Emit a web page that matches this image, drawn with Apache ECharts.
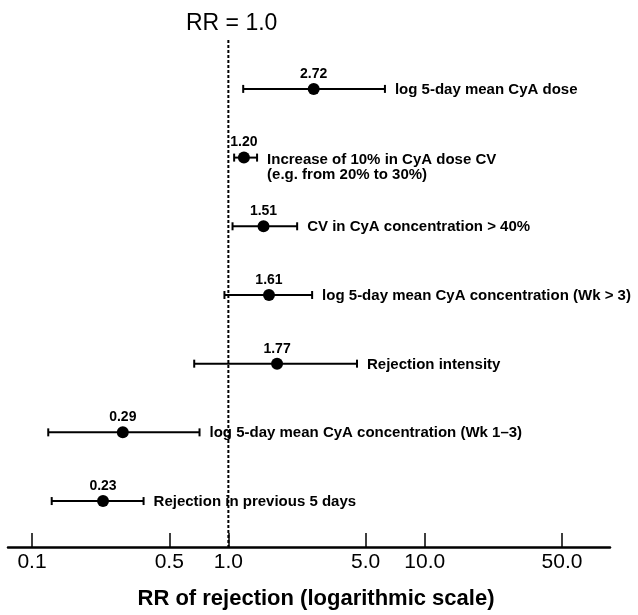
<!DOCTYPE html>
<html>
<head>
<meta charset="utf-8">
<script src="https://cdn.jsdelivr.net/npm/echarts@6/dist/echarts.min.js"></script>
<style>
  html, body { margin: 0; padding: 0; background: #fff; }
  #chart { width: 638px; height: 615px; }
</style>
</head>
<body>
<div id="chart"></div>
<script>
// relative risks with 95% CI (top row first)
var rr    = [2.72, 1.20, 1.51, 1.61, 1.77, 0.29, 0.23];
var lower = [1.19, 1.07, 1.05, 0.955, 0.67, 0.121, 0.126];
var upper = [6.27, 1.40, 2.24, 2.67, 4.52, 0.713, 0.37];
var rowLabels = [
  'log 5-day mean CyA dose',
  'Increase of 10% in CyA dose CV\n(e.g. from 20% to 30%)',
  'CV in CyA concentration > 40%',
  'log 5-day mean CyA concentration (Wk > 3)',
  'Rejection intensity',
  'log 5-day mean CyA concentration (Wk 1\u20133)',
  'Rejection in previous 5 days'
];
var tickValues = [0.1, 0.5, 1.0, 5.0, 10.0, 50.0];
var tickLabels = ['0.1', '0.5', '1.0', '5.0', '10.0', '50.0'];
var refRR = 1.0;

var FONT = '"Liberation Sans", Arial, sans-serif';
var yMin = -0.712, yMax = 6.669;

var chart = echarts.init(document.getElementById('chart'));

// x axis runs in log10 units
var items = [];
for (var i = 0; i < rr.length; i++) {
  items.push([Math.log10(lower[i]), Math.log10(rr[i]), Math.log10(upper[i]), i, rowLabels[i], rr[i].toFixed(2)]);
}

function renderRow(params, api) {
  var lo = api.coord([api.value(0), api.value(3)]);
  var pt = api.coord([api.value(1), api.value(3)]);
  var hi = api.coord([api.value(2), api.value(3)]);
  var cap = 4;
  var label = items[params.dataIndex][4];
  var multi = label.indexOf('\n') >= 0;
  return {
    type: 'group',
    children: [
      { type: 'line', shape: { x1: lo[0], y1: lo[1], x2: hi[0], y2: hi[1] }, style: { stroke: '#000', lineWidth: 2 } },
      { type: 'line', shape: { x1: lo[0], y1: lo[1] - cap, x2: lo[0], y2: lo[1] + cap }, style: { stroke: '#000', lineWidth: 2 } },
      { type: 'line', shape: { x1: hi[0], y1: hi[1] - cap, x2: hi[0], y2: hi[1] + cap }, style: { stroke: '#000', lineWidth: 2 } },
      { type: 'circle', shape: { cx: pt[0], cy: pt[1], r: 6 }, style: { fill: '#000' } },
      { type: 'text', x: pt[0], y: pt[1] - 15, style: {
          text: items[params.dataIndex][5], fill: '#000', font: 'bold 14px ' + FONT,
          textAlign: 'center', textVerticalAlign: 'middle' } },
      { type: 'text', x: hi[0] + 10, y: multi ? pt[1] - 5 : pt[1] + 1, style: {
          text: label, fill: '#000', font: 'bold 15px ' + FONT, lineHeight: 15,
          textAlign: 'left', textVerticalAlign: multi ? 'top' : 'middle' } }
    ]
  };
}

var option = {
  backgroundColor: '#fff',
  animation: false,
  title: {
    text: 'RR = 1.0',
    left: 186, top: 12, padding: 0,
    textStyle: { fontFamily: FONT, fontSize: 23, fontWeight: 'normal', color: '#000' }
  },
  grid: { left: 8, right: 28, top: 40, bottom: 67, containLabel: false },
  xAxis: {
    type: 'value',
    min: -1.1222, max: 1.9434,
    splitLine: { show: false },
    axisLine: { onZero: false, lineStyle: { color: '#000', width: 2.5 } },
    axisTick: {
      inside: true, length: 14, lineStyle: { color: '#000', width: 1.5 },
      customValues: tickValues.map(function (v) { return Math.log10(v); })
    },
    axisLabel: {
      customValues: tickValues.map(function (v) { return Math.log10(v); }),
      margin: 5,
      color: '#000', fontFamily: FONT, fontSize: 21,
      formatter: function (v) {
        for (var k = 0; k < tickValues.length; k++) {
          if (Math.abs(Math.log10(tickValues[k]) - v) < 1e-6) return tickLabels[k];
        }
        return '';
      }
    },
    name: 'RR of rejection (logarithmic scale)',
    nameLocation: 'middle',
    nameGap: 41,
    nameTextStyle: { color: '#000', fontFamily: FONT, fontSize: 22, fontWeight: 'bold', padding: [0, 0, 0, 14] }
  },
  yAxis: {
    type: 'value', inverse: true, min: yMin, max: yMax, show: false
  },
  series: [
    {
      type: 'line',
      data: [[Math.log10(refRR), yMin], [Math.log10(refRR), yMax]],
      symbol: 'none',
      silent: true,
      lineStyle: { color: '#000', width: 2, type: [3, 2] }
    },
    {
      type: 'custom',
      renderItem: renderRow,
      encode: { x: [0, 1, 2], y: 3 },
      data: items
    }
  ]
};

chart.setOption(option);
</script>
</body>
</html>
